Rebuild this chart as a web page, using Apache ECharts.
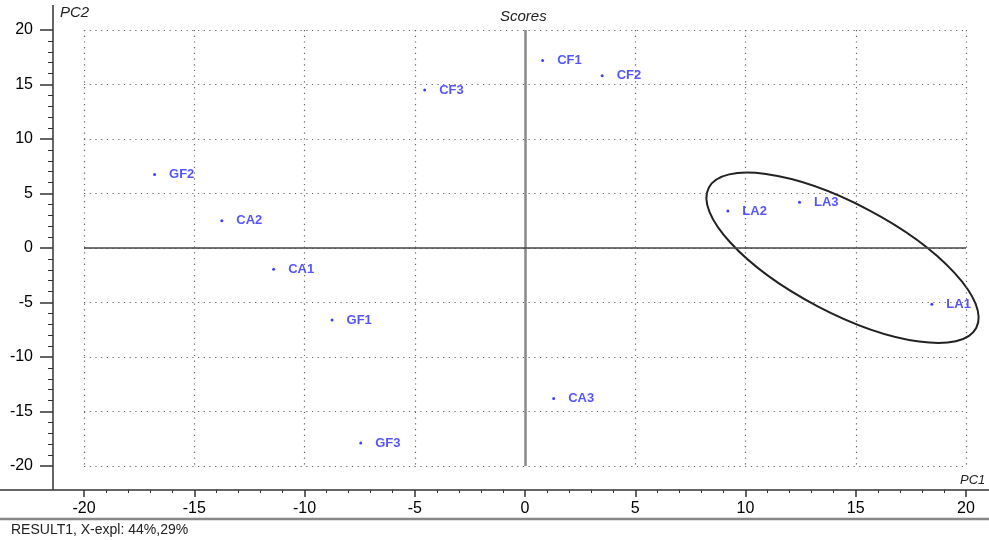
<!DOCTYPE html>
<html><head><meta charset="utf-8">
<script src="https://cdn.jsdelivr.net/npm/echarts@6/dist/echarts.min.js"></script>
<style>html,body{margin:0;padding:0;background:#fff}#c{width:989px;height:540px}</style>
</head><body><div id="c"></div>
<script>
const sampleNames = ['CF1','CF2','CF3','GF2','CA2','CA1','GF1','CA3','GF3','LA2','LA3','LA1'];
const pc1Scores = [0.8, 3.5, -4.55, -16.8, -13.75, -11.4, -8.75, 1.3, -7.45, 9.2, 12.45, 18.45];
const pc2Scores = [17.2, 15.8, 14.5, 6.75, 2.5, -1.95, -6.6, -13.8, -17.9, 3.4, 4.2, -5.15];
const axisTicks = [-20, -15, -10, -5, 0, 5, 10, 15, 20];
const ellipseCenter = [14.4, -0.9];

const chart = echarts.init(document.getElementById('c'), null, {renderer:'canvas'});
const pts = sampleNames.map((n,i)=>[pc1Scores[i], pc2Scores[i], n]);
const font = 'Liberation Sans, Arial, sans-serif';
const W = 989, H = 540;

const option = {
  animation:false,
  backgroundColor:'#fff',
  grid:{left:84, right:23, top:30, bottom:74},
  xAxis:{
    type:'value', min:axisTicks[0], max:axisTicks[axisTicks.length-1], interval:5,
    offset:24,
    axisLine:{show:false, onZero:false},
    axisTick:{show:true, length:7, lineStyle:{color:'#333', width:1.5}},
    minorTick:{show:true, splitNumber:5, length:3, lineStyle:{color:'#333'}},
    axisLabel:{fontSize:16, color:'#000', margin:11, fontFamily:font},
    splitLine:{show:true, lineStyle:{color:'#666', type:[1.2,4.5], width:1.2}}
  },
  yAxis:{
    type:'value', min:axisTicks[0], max:axisTicks[axisTicks.length-1], interval:5,
    offset:31,
    axisLine:{show:false, onZero:false},
    axisTick:{show:true, length:13, lineStyle:{color:'#333', width:1.5}},
    minorTick:{show:true, splitNumber:5, length:5, lineStyle:{color:'#333'}},
    axisLabel:{fontSize:16, color:'#000', margin:20, fontFamily:font},
    splitLine:{show:true, lineStyle:{color:'#666', type:[1.2,4.5], width:1.2}}
  },
  series:[{
    type:'scatter',
    data:pts,
    symbol:'circle', symbolSize:3,
    itemStyle:{color:'#1010ff'},
    label:{show:true, position:'right', distance:13, formatter:p=>p.value[2],
      color:'#2a2aff', fontSize:13, fontWeight:'bold', fontFamily:font},
    markLine:{
      silent:true, symbol:'none', label:{show:false},
      data:[
        {xAxis:0, lineStyle:{color:'#8a8a8a', width:2.5, type:'solid'}},
        {yAxis:0, lineStyle:{color:'#444', width:1.5, type:'solid'}}
      ]
    }
  }],
  graphic:[
    {id:'yline', type:'line', shape:{x1:53, y1:5, x2:53, y2:490}, style:{stroke:'#333', lineWidth:1.5}},
    {id:'xline', type:'line', shape:{x1:0, y1:490, x2:W, y2:490}, style:{stroke:'#333', lineWidth:1.5}},
    {id:'sep', type:'line', shape:{x1:0, y1:519, x2:W, y2:519}, style:{stroke:'#888', lineWidth:2.5}},
    {id:'pc2', type:'text', left:60, top:5, style:{text:'PC2', font:'italic 15px '+font, fill:'#222'}},
    {id:'ttl', type:'text', left:500, top:9, style:{text:'Scores', font:'italic 15px '+font, fill:'#222'}},
    {id:'pc1', type:'text', left:960, top:474, style:{text:'PC1', font:'italic 13px '+font, fill:'#222'}},
    {id:'res', type:'text', left:11, top:523, style:{text:'RESULT1, X-expl: 44%,29%', font:'14px '+font, fill:'#222'}}
  ]
};
chart.setOption(option);
const c = chart.convertToPixel({gridIndex:0}, ellipseCenter);
chart.setOption({graphic:[{
  id:'ell', type:'ellipse', x:c[0], y:c[1], rotation:-27.7*Math.PI/180,
  shape:{cx:0, cy:0, rx:151, ry:54.5},
  style:{fill:'none', stroke:'#222', lineWidth:2}
}]});
</script></body></html>
